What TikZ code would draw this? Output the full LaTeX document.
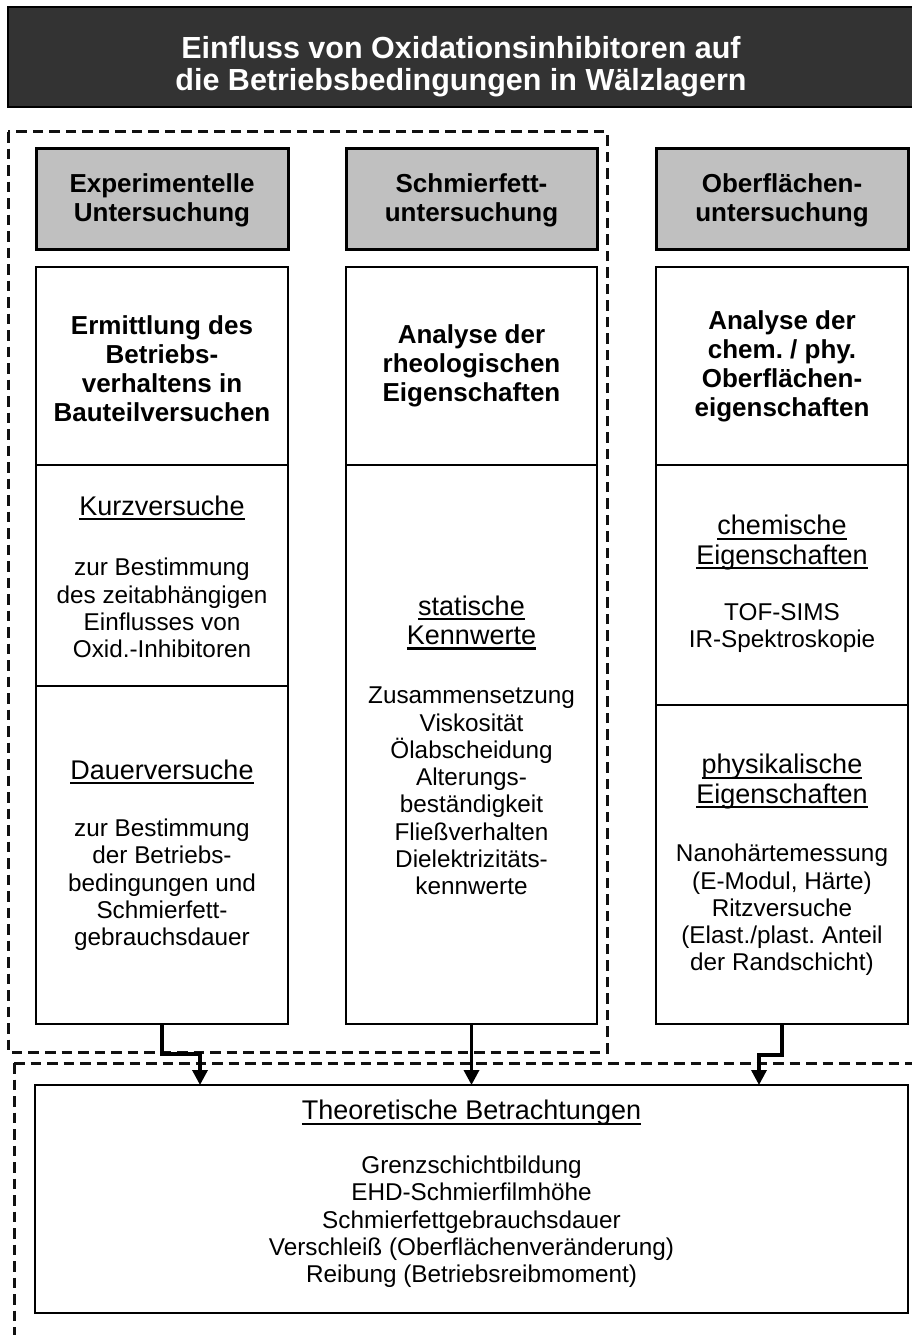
\documentclass[tikz,border=0pt]{standalone}
\usepackage{fontspec}
\setmainfont{Liberation Sans}
\usetikzlibrary{arrows.meta}
\definecolor{titlegray}{HTML}{333333}
\definecolor{headgray}{HTML}{C0C0C0}
\definecolor{dashgray}{HTML}{111111}
\frenchspacing
\newsavebox\ulbox
\newcommand\uln[1]{\leavevmode\sbox\ulbox{#1}\rlap{\rule[-5pt]{\wd\ulbox}{2.2pt}}\usebox\ulbox}
\newcommand\ttlfont{\fontsize{30.5}{32}\selectfont\bfseries}
\newcommand\hdfont{\fontsize{26}{29}\selectfont\bfseries}
\newcommand\subfont{\fontsize{27}{29.5}\selectfont}
\newcommand\bdfont{\fontsize{24.3}{27.3}\selectfont}
\begin{document}
\begin{tikzpicture}[x=1pt,y=-1pt,
  sect/.style={draw=black,line width=2.3pt,rectangle,inner sep=0pt,outer sep=0pt},
  headbox/.style={sect,fill=headgray,line width=3pt},
  frame/.style={draw=dashgray,line width=3pt,dash pattern=on 10.5pt off 6pt},
  headtxt/.style={align=center,font=\hdfont,inner sep=0pt},
  subtxt/.style={align=center,font=\subfont,inner sep=0pt},
  bodytxt/.style={align=center,font=\bdfont,inner sep=0pt},
  arr/.style={draw=black,line width=3.4pt,-{Triangle[length=15pt,width=15pt]}}]
\useasboundingbox (0,0) rectangle (912,1335);

% title bar
\node[fill=titlegray,draw=black,line width=1.5pt,inner sep=0pt,outer sep=0pt,
      minimum width=930pt,minimum height=100pt] (title) at (473,57) {};
\node[align=center,font=\ttlfont,text=white,inner sep=0pt] (titletxt) at (461,67)
  {Einfluss von Oxidationsinhibitoren auf\\die Betriebsbedingungen in Wälzlagern};

% dashed groupings
\draw[frame] (8,132) rectangle (607,1052);
\draw[frame] (14,1063) -- (14,1345);
\draw[frame] (14,1063) -- (925,1063);

% column headers
\node[headbox,minimum width=252pt,minimum height=101pt] (hL) at (162,198.5) {};
\node[headbox,minimum width=251pt,minimum height=101pt] (hM) at (471.5,198.5) {};
\node[headbox,minimum width=252pt,minimum height=101pt] (hR) at (782,198.5) {};
\node[headtxt] (hLt) at (162,200) {Experimentelle\\Untersuchung};
\node[headtxt] (hMt) at (471.5,200) {Schmierfett-\\untersuchung};
\node[headtxt] (hRt) at (782,200) {Oberflächen-\\untersuchung};

% left column
\node[sect,minimum width=252pt,minimum height=198pt] (L1) at (162,366) {};
\node[sect,minimum width=252pt,minimum height=221pt] (L2) at (162,575.5) {};
\node[sect,minimum width=252pt,minimum height=338pt] (L3) at (162,855) {};
\node[headtxt] (L1t) at (162,369) {Ermittlung des\\Betriebs-\\verhaltens in\\Bauteilversuchen};
\node[subtxt] (L2h) at (162,508) {\uln{Kurzversuche}};
\node[bodytxt] (L2t) at (162,608) {zur Bestimmung\\des zeitabhängigen\\Einflusses von\\Oxid.-Inhibitoren};
\node[subtxt] (L3h) at (162,772) {\uln{Dauerversuche}};
\node[bodytxt] (L3t) at (162,885) {zur Bestimmung\\der Betriebs-\\bedingungen und\\Schmierfett-\\gebrauchsdauer};

% middle column
\node[sect,minimum width=251pt,minimum height=198pt] (M1) at (471.5,366) {};
\node[sect,minimum width=251pt,minimum height=559pt] (M2) at (471.5,744.5) {};
\node[headtxt] (M1t) at (471.5,366) {Analyse der\\rheologischen\\Eigenschaften};
\node[subtxt] (M2h) at (471.5,622.5) {\uln{statische}\\\uln{Kennwerte}};
\node[bodytxt] (M2t) at (471.5,791) {Zusammensetzung\\Viskosität\\Ölabscheidung\\Alterungs-\\beständigkeit\\Fließverhalten\\Dielektrizitäts-\\kennwerte};

% right column
\node[sect,minimum width=252pt,minimum height=198pt] (R1) at (782,366) {};
\node[sect,minimum width=252pt,minimum height=240pt] (R2) at (782,585) {};
\node[sect,minimum width=252pt,minimum height=319pt] (R3) at (782,864.5) {};
\node[headtxt] (R1t) at (782,366) {Analyse der\\chem. / phy.\\Oberflächen-\\eigenschaften};
\node[subtxt] (R2h) at (782,542.5) {\uln{chemische}\\\uln{Eigenschaften}};
\node[bodytxt] (R2t) at (782,628) {TOF-SIMS\\IR-Spektroskopie};
\node[subtxt] (R3h) at (782,781.5) {\uln{physikalische}\\\uln{Eigenschaften}};
\node[bodytxt] (R3t) at (782,910) {Nanohärtemessung\\(E-Modul, Härte)\\Ritzversuche\\(Elast./plast. Anteil\\der Randschicht)};

% theoretical part
\node[sect,line width=2.6pt,minimum width=873pt,minimum height=228pt] (bot) at (471.5,1199) {};
\node[subtxt] (both) at (471.5,1113) {\uln{Theoretische Betrachtungen}};
\node[bodytxt] (bott) at (471.5,1222) {Grenzschichtbildung\\EHD-Schmierfilmhöhe\\Schmierfettgebrauchsdauer\\Verschleiß (Oberflächenveränderung)\\Reibung (Betriebsreibmoment)};

% connectors
\coordinate (jL) at (200,1054);
\coordinate (jR) at (759,1055);
\draw[arr] (L3.south) |- (jL) -- (jL |- bot.north);
\draw[arr] (M2.south) -- (M2.south |- bot.north);
\draw[arr] (R3.south) |- (jR) -- (jR |- bot.north);
\end{tikzpicture}
\end{document}
